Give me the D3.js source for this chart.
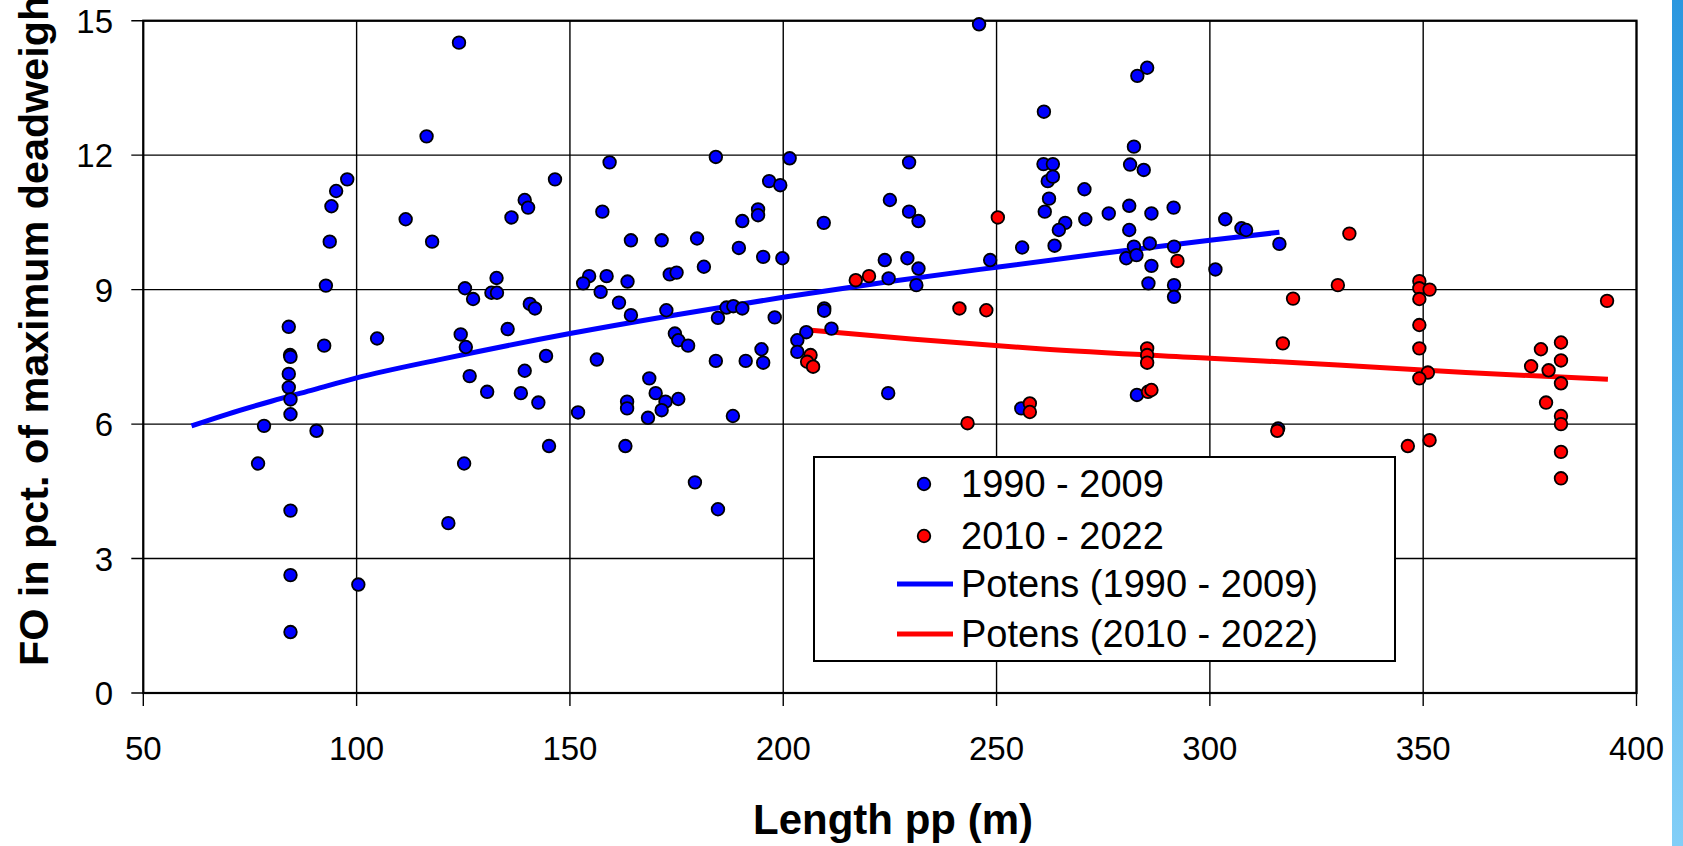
<!DOCTYPE html>
<html>
<head>
  <title>FO vs Length pp</title>
  <script src="https://d3js.org/d3.v7.min.js"></script>
  <style>
    * {
        margin: 0;
        box-sizing: border-box;
    }
    body {
      background: #fff;
      overflow: hidden;
    }
    text {
      font-family: "Liberation Sans", Arial, sans-serif;
      fill: #000;
    }
    .grid line {
      stroke: #000;
      stroke-width: 1.4px;
    }
    .tick-label {
      font-size: 33px;
    }
    .axis-title {
      font-size: 42px;
      font-weight: bold;
    }
    .legend text {
      font-size: 38px;
    }
  </style>
</head>
<body>
  <script>
    const xTicks = [50, 100, 150, 200, 250, 300, 350, 400];
    const yTicks = [0, 3, 6, 9, 12, 15];

    const seriesNames = ["1990 - 2009", "2010 - 2022", "Potens (1990 - 2009)", "Potens (2010 - 2022)"];

    // [length pp, FO %]
    const points1990 = [
      [116.4,12.42],[97.8,11.46],[95.2,11.2],[94.1,10.86],[93.7,10.07],[92.8,9.09],[111.5,10.57],[117.7,10.07],
      [84.1,8.17],[92.4,7.75],[104.8,7.91],[84.4,7.54],[84.5,7.5],[84.1,7.12],[84.1,6.82],[84.5,6.55],[84.5,6.22],
      [78.3,5.96],[90.6,5.85],[76.9,5.12],[84.5,4.07],[84.5,2.63],[100.4,2.42],[84.5,1.36],[121.5,3.79],
      [124,14.51],[159.3,11.84],[184.2,11.96],[146.5,11.46],[139.4,11.0],[140.2,10.83],[136.3,10.61],[157.6,10.74],
      [190.4,10.53],[164.3,10.1],[171.5,10.1],[179.8,10.14],[189.6,9.93],[181.4,9.51],[173.4,9.34],[175,9.38],
      [154.5,9.3],[153.1,9.14],[158.6,9.3],[163.5,9.18],[157.2,8.95],[161.5,8.71],[164.3,8.43],[172.6,8.54],
      [184.7,8.37],[186.7,8.6],[188.3,8.63],[190.4,8.58],[132.8,9.26],[125.4,9.03],[127.3,8.79],[131.6,8.93],
      [132.9,8.93],[140.6,8.68],[141.8,8.58],[124.4,8.0],[125.6,7.72],[135.4,8.12],[144.4,7.52],[174.6,8.02],
      [175.4,7.87],[177.7,7.75],[156.3,7.44],[184.2,7.41],[191.2,7.41],[126.5,7.07],[139.4,7.19],[130.6,6.72],
      [138.5,6.69],[142.6,6.48],[168.6,7.02],[170.1,6.69],[172.4,6.5],[171.5,6.31],[175.4,6.56],[163.4,6.5],
      [163.4,6.35],[151.9,6.26],[168.3,6.14],[188.2,6.18],[145.1,5.51],[125.2,5.12],[163,5.51],[179.3,4.7],[184.7,4.1],
      [245.9,14.92],[261.1,12.97],[201.5,11.93],[229.5,11.84],[196.7,11.42],[199.3,11.33],[194.1,10.79],[194.1,10.66],
      [225,11.0],[229.5,10.74],[231.7,10.53],[209.5,10.49],[195.3,9.73],[199.8,9.7],[223.8,9.66],[229.1,9.7],
      [231.7,9.47],[224.7,9.25],[231.2,9.1],[248.5,9.66],[256,9.94],[209.6,8.58],[209.6,8.53],[198,8.38],
      [205.4,8.05],[211.3,8.13],[203.3,7.87],[203.3,7.61],[194.9,7.67],[195.3,7.37],[224.6,6.69],[255.8,6.35],
      [285.3,13.95],[283,13.77],[282.2,12.19],[281.3,11.79],[284.5,11.67],[261,11.8],[263.2,11.8],[262,11.42],
      [263.2,11.52],[262.3,11.03],[270.6,11.24],[261.3,10.74],[266.1,10.49],[264.6,10.33],[270.8,10.57],[276.3,10.7],
      [281.1,10.87],[286.3,10.7],[291.5,10.83],[281.1,10.33],[263.6,9.98],[282.2,9.96],[285.9,10.03],[280.4,9.7],
      [282.8,9.77],[291.6,9.96],[286.3,9.53],[285.6,9.14],[291.6,9.1],[291.6,8.84],[301.3,9.45],[303.6,10.57],
      [307.4,10.37],[308.5,10.33],[316.3,10.02],[282.9,6.65],[316,5.9]
    ];

    const points2010 = [
      [250.3,10.61],[217,9.21],[220.1,9.3],[241.3,8.58],[247.6,8.54],[206.4,7.54],[205.6,7.39],[207,7.28],
      [243.2,6.02],[257.8,6.46],[257.8,6.27],[292.4,9.64],[332.7,10.25],[330,9.1],[319.5,8.8],[317.1,7.8],
      [285.3,7.69],[285.3,7.54],[285.3,7.37],[285.5,6.72],[286.3,6.76],[315.8,5.85],[349.1,9.19],[349.1,9.03],
      [351.5,9.0],[349.1,8.79],[349.1,8.21],[349.1,7.69],[393.1,8.75],[382.3,7.82],[377.6,7.67],[382.3,7.42],
      [351.1,7.15],[349.1,7.02],[375.3,7.29],[379.4,7.2],[382.3,6.91],[378.8,6.48],[382.3,6.18],[382.3,6.0],
      [382.3,5.38],[382.3,4.79],[346.4,5.51],[351.5,5.64]
    ];

    // trend lines
    const trend1990 = [[61.3,5.96],[70,6.23],[80,6.51],[90,6.77],[100,7.03],[120,7.45],[150,8.02],[175,8.44],[200,8.83],[225,9.18],[250,9.5],[275,9.81],[300,10.1],[316.3,10.28]];
    const trend2010 = [[205.8,8.1],[230,7.9],[260,7.68],[300,7.47],[330,7.32],[360,7.15],[393.3,7.0]];

    const width = 1683;
    const height = 846;
    const blue = "#0000ff";
    const red = "#ff0000";

    const svg = d3.select("body").append("svg")
      .attr("width", width)
      .attr("height", height);

    const x = d3.scaleLinear().domain([50, 400]).range([143.3, 1636.5]);
    const y = d3.scaleLinear().domain([0, 15]).range([693, 20.7]);

    // strip on right edge
    const grad = svg.append("defs").append("linearGradient")
      .attr("id", "edge").attr("x1", 0).attr("y1", 0).attr("x2", 0).attr("y2", 1);
    grad.append("stop").attr("offset", "0%").attr("stop-color", "#2b97df");
    grad.append("stop").attr("offset", "100%").attr("stop-color", "#82cef7");
    svg.append("rect")
      .attr("x", 1672).attr("y", 0).attr("width", 11).attr("height", height)
      .attr("fill", "url(#edge)");

    const grid = svg.append("g").attr("class", "grid");
    grid.selectAll(".hy").data(yTicks).enter().append("line")
      .attr("x1", x(50) - 12).attr("x2", x(400))
      .attr("y1", d => y(d)).attr("y2", d => y(d));
    grid.selectAll(".vx").data(xTicks).enter().append("line")
      .attr("x1", d => x(d)).attr("x2", d => x(d))
      .attr("y1", y(15)).attr("y2", y(0) + 13);

    svg.append("rect")
      .attr("x", x(50)).attr("y", y(15))
      .attr("width", x(400) - x(50)).attr("height", y(0) - y(15))
      .attr("fill", "none").attr("stroke", "#000").attr("stroke-width", 2.2);

    svg.selectAll(".ylab").data(yTicks).enter().append("text")
      .attr("class", "tick-label")
      .attr("x", 113).attr("y", d => y(d) + 12)
      .attr("text-anchor", "end")
      .text(d => d);

    svg.selectAll(".xlab").data(xTicks).enter().append("text")
      .attr("class", "tick-label")
      .attr("x", d => x(d)).attr("y", 760)
      .attr("text-anchor", "middle")
      .text(d => d);

    svg.append("text")
      .attr("class", "axis-title")
      .attr("x", 893).attr("y", 834)
      .attr("text-anchor", "middle")
      .text("Length pp (m)");

    svg.append("text")
      .attr("class", "axis-title")
      .attr("transform", "translate(48,666) rotate(-90)")
      .attr("text-anchor", "start")
      .style("font-size", "40px")
      .attr("textLength", 684)
      .attr("lengthAdjust", "spacingAndGlyphs")
      .text("FO in pct. of maximum deadweight");

    const line = d3.line().x(d => x(d[0])).y(d => y(d[1])).curve(d3.curveMonotoneX);

    svg.append("path").datum(trend1990)
      .attr("d", line).attr("fill", "none")
      .attr("stroke", blue).attr("stroke-width", 5);
    svg.append("path").datum(trend2010)
      .attr("d", line).attr("fill", "none")
      .attr("stroke", red).attr("stroke-width", 5);

    svg.selectAll(".p1").data(points1990).enter().append("circle")
      .attr("cx", d => x(d[0])).attr("cy", d => y(d[1])).attr("r", 6.3)
      .attr("fill", blue).attr("stroke", "#000").attr("stroke-width", 1.8);
    svg.selectAll(".p2").data(points2010).enter().append("circle")
      .attr("cx", d => x(d[0])).attr("cy", d => y(d[1])).attr("r", 6.3)
      .attr("fill", red).attr("stroke", "#000").attr("stroke-width", 1.8);

    const legend = svg.append("g").attr("class", "legend");
    legend.append("rect")
      .attr("x", 814).attr("y", 457).attr("width", 581).attr("height", 204)
      .attr("fill", "#fff").attr("stroke", "#000").attr("stroke-width", 2);

    const rows = [484, 536, 584, 634];
    const colors = [blue, red, blue, red];
    seriesNames.forEach((name, i) => {
      if (i < 2) {
        legend.append("circle")
          .attr("cx", 924).attr("cy", rows[i]).attr("r", 6.3)
          .attr("fill", colors[i]).attr("stroke", "#000").attr("stroke-width", 1.8);
      } else {
        legend.append("line")
          .attr("x1", 897).attr("x2", 953).attr("y1", rows[i]).attr("y2", rows[i])
          .attr("stroke", colors[i]).attr("stroke-width", 5);
      }
      legend.append("text")
        .attr("x", 961).attr("y", rows[i] + 13)
        .text(name);
    });
  </script>
</body>
</html>
